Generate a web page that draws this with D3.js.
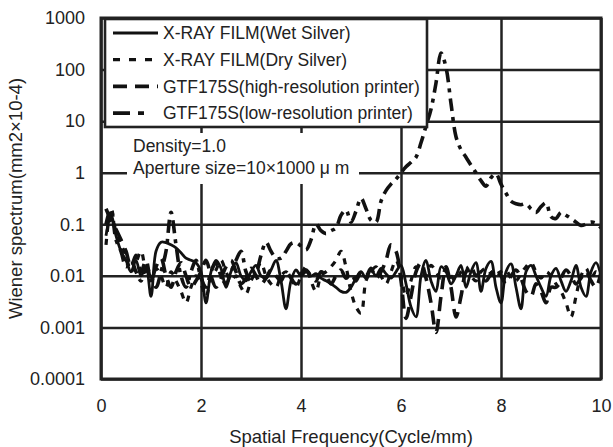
<!DOCTYPE html>
<html>
<head>
<meta charset="utf-8">
<script src="https://cdn.jsdelivr.net/npm/d3@7"></script>
<style>
  body { margin: 0; background: #fff; }
  text { font-family: 'Liberation Sans', Arial, sans-serif; fill: #222; }
</style>
</head>
<body>
<div id="chart"></div>
<script>
// spatial frequency (cycle/mm), 0.1 .. 10.0
var freq = d3.range(1, 101).map(d => d / 10);

var wetSilver = [
  0.06, 0.15, 0.06, 0.03, 0.02, 0.012, 0.02, 0.01, 0.015, 0.004,
  0.03, 0.045, 0.044, 0.04, 0.035, 0.028, 0.022, 0.02, 0.018, 0.012,
  0.003, 0.012, 0.02, 0.014, 0.006, 0.012, 0.018, 0.01, 0.008, 0.012,
  0.016, 0.01, 0.009, 0.013, 0.02, 0.008, 0.0023, 0.008, 0.013, 0.01,
  0.012, 0.01, 0.011, 0.009, 0.008, 0.007, 0.006, 0.005, 0.0048, 0.006,
  0.009, 0.012, 0.009, 0.013, 0.01, 0.014, 0.011, 0.009, 0.012, 0.016,
  0.007, 0.0025, 0.0016, 0.01, 0.02, 0.008, 0.005, 0.015, 0.012, 0.007,
  0.01, 0.016, 0.006, 0.012, 0.018, 0.005, 0.014, 0.019, 0.006, 0.003,
  0.012, 0.017, 0.006, 0.0023, 0.012, 0.016, 0.01, 0.006, 0.004, 0.01,
  0.014, 0.008, 0.005, 0.008, 0.016, 0.006, 0.004, 0.012, 0.018, 0.01
];

var drySilver = [
  0.04, 0.2, 0.07, 0.04, 0.025, 0.012, 0.018, 0.03, 0.012, 0.008,
  0.014, 0.01, 0.006, 0.012, 0.008, 0.005, 0.003, 0.006, 0.01, 0.007,
  0.004, 0.009, 0.013, 0.02, 0.012, 0.008, 0.01, 0.006, 0.0045, 0.008,
  0.012, 0.018, 0.01, 0.007, 0.006, 0.01, 0.012, 0.009, 0.006, 0.01,
  0.015, 0.008, 0.005, 0.01, 0.012, 0.015, 0.02, 0.03, 0.015, 0.005,
  0.0025, 0.0019, 0.008, 0.012, 0.015, 0.01, 0.007, 0.012, 0.02, 0.01,
  0.004, 0.008, 0.015, 0.012, 0.01, 0.016, 0.012, 0.009, 0.014, 0.01,
  0.008, 0.012, 0.015, 0.01, 0.008, 0.012, 0.014, 0.011, 0.009, 0.012,
  0.013, 0.009, 0.008, 0.011, 0.015, 0.018, 0.012, 0.009, 0.012, 0.01,
  0.007, 0.005, 0.003, 0.0016, 0.004, 0.01, 0.014, 0.009, 0.012, 0.01
];

var highRes = [
  0.2, 0.12, 0.08, 0.05, 0.03, 0.015, 0.025, 0.012, 0.02, 0.008,
  0.015, 0.022, 0.01, 0.006, 0.012, 0.018, 0.01, 0.006, 0.008, 0.012,
  0.02, 0.01, 0.006, 0.009, 0.015, 0.02, 0.012, 0.007, 0.009, 0.014,
  0.01, 0.007, 0.009, 0.013, 0.01, 0.008, 0.012, 0.009, 0.007, 0.011,
  0.013, 0.01, 0.008, 0.012, 0.01, 0.007, 0.01, 0.013, 0.009, 0.011,
  0.008, 0.012, 0.01, 0.014, 0.009, 0.012, 0.02, 0.04, 0.03, 0.008,
  0.0015, 0.004, 0.012, 0.018, 0.009, 0.003, 0.0008, 0.004, 0.015, 0.006,
  0.0016, 0.004, 0.012, 0.015, 0.01, 0.012, 0.008, 0.011, 0.014, 0.01,
  0.007, 0.01, 0.013, 0.009, 0.005, 0.004, 0.007, 0.005, 0.003, 0.006,
  0.006, 0.009, 0.013, 0.01, 0.007, 0.009, 0.012, 0.008, 0.006, 0.012
];

var lowRes = [
  0.1, 0.2, 0.05, 0.03, 0.015, 0.02, 0.012, 0.008, 0.015, 0.01,
  0.006, 0.012, 0.03, 0.17, 0.04, 0.01, 0.006, 0.012, 0.02, 0.009,
  0.006, 0.012, 0.018, 0.01, 0.007, 0.012, 0.02, 0.03, 0.012, 0.008,
  0.011, 0.025, 0.045, 0.03, 0.022, 0.022, 0.03, 0.042, 0.044, 0.038,
  0.032, 0.05, 0.1, 0.075, 0.066, 0.075, 0.085, 0.15, 0.19, 0.11,
  0.18, 0.32, 0.2, 0.12, 0.11, 0.28, 0.45, 0.6, 0.75, 1.0,
  1.3, 1.6, 2.0, 3.8, 8, 17, 55, 210, 110, 22,
  5, 2.8, 2.0, 1.4, 1.0, 0.7, 0.55, 0.8, 0.95, 0.6,
  0.4, 0.28, 0.25, 0.24, 0.25, 0.2, 0.17, 0.22, 0.26, 0.14,
  0.13, 0.17, 0.15, 0.13, 0.11, 0.095, 0.1, 0.11, 0.105, 0.085
];

var seriesNames = [
  'X-RAY FILM(Wet Silver)',
  'X-RAY FILM(Dry Silver)',
  'GTF175S(high-resolution printer)',
  'GTF175S(low-resolution printer)'
];
var seriesValues = [wetSilver, drySilver, highRes, lowRes];
var yTicks = [0.0001, 0.001, 0.01, 0.1, 1, 10, 100, 1000];
var yTickLabels = ['0.0001', '0.001', '0.01', '0.1', '1', '10', '100', '1000'];
var xTicks = [0, 2, 4, 6, 8, 10];

var width = 613;
var height = 447;
var margin = { top: 18, right: 12, bottom: 68, left: 101 };
var graphWidth = width - margin.left - margin.right;
var graphHeight = height - margin.top - margin.bottom;

var dashes = [null, '6,7', '14,8', '13,6,4,6'];
var widths = [2.8, 3.2, 3.6, 3.6];

var svg = d3
  .select('#chart')
  .append('svg')
  .attr('width', width)
  .attr('height', height);

var graph = svg
  .append('g')
  .attr('transform', 'translate(' + margin.left + ',' + margin.top + ')');

var x = d3.scaleLinear().domain([0, 10]).range([0, graphWidth]);
var y = d3.scaleLog().domain([0.0001, 1000]).range([graphHeight, 0]);

// grid
graph
  .append('g')
  .attr('class', 'y-grid')
  .call(d3.axisLeft(y).tickValues(yTicks).tickSize(-graphWidth).tickFormat(''))
  .call(g => g.select('.domain').remove())
  .call(g => g.selectAll('line').attr('stroke', '#222').attr('stroke-width', 2.5));

graph
  .append('g')
  .attr('class', 'x-grid')
  .attr('transform', 'translate(0,' + graphHeight + ')')
  .call(d3.axisBottom(x).tickValues(xTicks).tickSize(-graphHeight).tickFormat(''))
  .call(g => g.select('.domain').remove())
  .call(g => g.selectAll('line').attr('stroke', '#222').attr('stroke-width', 2.5));

// tick labels
graph
  .append('g')
  .attr('class', 'y-axis')
  .call(d3.axisLeft(y).tickValues(yTicks).tickSize(0).tickPadding(16)
    .tickFormat((d, i) => yTickLabels[i]))
  .call(g => g.select('.domain').remove())
  .call(g => g.selectAll('text').style('font-size', '18px').attr('fill', '#222'));

graph
  .append('g')
  .attr('class', 'x-axis')
  .attr('transform', 'translate(0,' + graphHeight + ')')
  .call(d3.axisBottom(x).tickValues(xTicks).tickSize(0).tickPadding(20))
  .call(g => g.select('.domain').remove())
  .call(g => g.selectAll('text').style('font-size', '18px').attr('fill', '#222'));

// annotation box
var note = graph.append('g').attr('transform', 'translate(26,115)');
note.append('rect').attr('width', 232).attr('height', 51).attr('fill', '#fff');
note.append('text').attr('x', 6).attr('y', 19).style('font-size', '17.5px').text('Density=1.0');
note.append('text').attr('x', 6).attr('y', 41).style('font-size', '17.5px')
  .text('Aperture size=10×1000 μ m');

// series
svg
  .append('clipPath')
  .attr('id', 'plot-clip')
  .append('rect')
  .attr('width', graphWidth)
  .attr('height', graphHeight);

var line = d3
  .line()
  .x((d, i) => x(freq[i]))
  .y(d => y(d))
  .curve(d3.curveCatmullRom);

graph
  .append('g')
  .attr('clip-path', 'url(#plot-clip)')
  .selectAll('path')
  .data(seriesValues)
  .enter()
  .append('path')
  .attr('d', line)
  .attr('fill', 'none')
  .attr('stroke', '#111')
  .attr('stroke-width', (d, i) => widths[i])
  .attr('stroke-dasharray', (d, i) => dashes[i])
  .attr('stroke-linejoin', 'round');

// frame
graph
  .append('rect')
  .attr('width', graphWidth)
  .attr('height', graphHeight)
  .attr('fill', 'none')
  .attr('stroke', '#222')
  .attr('stroke-width', 3);

// legend
var legend = graph.append('g').attr('transform', 'translate(4,1)');
legend
  .append('rect')
  .attr('width', 322)
  .attr('height', 108)
  .attr('fill', '#fff')
  .attr('stroke', '#222')
  .attr('stroke-width', 2.6);

var rows = legend
  .selectAll('.row')
  .data(seriesNames)
  .enter()
  .append('g')
  .attr('class', 'row')
  .attr('transform', (d, i) => 'translate(0,' + (14 + i * 26.7) + ')');

rows
  .append('line')
  .attr('x1', 8)
  .attr('x2', 53)
  .attr('stroke', '#111')
  .attr('stroke-width', (d, i) => widths[i])
  .attr('stroke-dasharray', (d, i) => (i === 3 ? '17,8,6,20' : i === 1 ? '7,9' : dashes[i]));

rows
  .append('text')
  .attr('x', 58)
  .attr('dy', '0.36em')
  .style('font-size', '17.5px')
  .text(d => d);

// axis titles
svg
  .append('text')
  .attr('x', margin.left + graphWidth / 2)
  .attr('y', 443)
  .attr('text-anchor', 'middle')
  .style('font-size', '18.5px')
  .text('Spatial Frequency(Cycle/mm)');

svg
  .append('text')
  .attr('transform', 'translate(22,' + (margin.top + graphHeight / 2) + ') rotate(-90)')
  .attr('text-anchor', 'middle')
  .style('font-size', '18.5px')
  .text('Wiener spectrum(mm2×10-4)');
</script>
</body>
</html>
